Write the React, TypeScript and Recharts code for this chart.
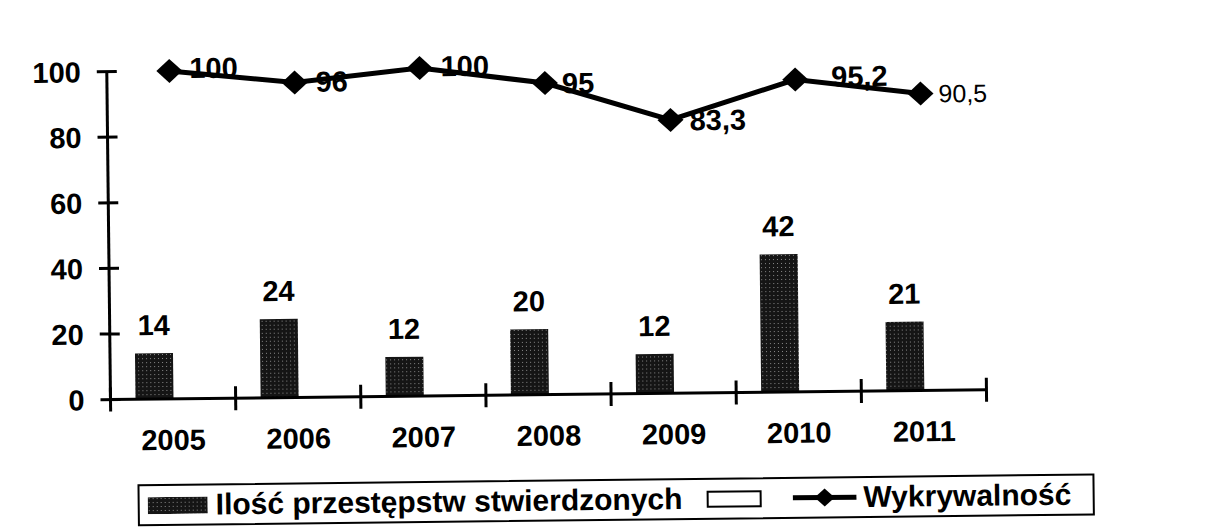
import { ComposedChart, Bar, Line, XAxis, YAxis, LabelList } from "recharts"

const YEARS = ["2005", "2006", "2007", "2008", "2009", "2010", "2011"]
const CRIMES = [14, 24, 12, 20, 12, 42, 21]
const EMPTY_SERIES = [0, 0, 0, 0, 0, 0, 0]
const DETECTION = [100, 96, 100, 95, 83.3, 95.2, 90.5]
const Y_TICKS = [0, 20, 40, 60, 80, 100]

const data = YEARS.map((year, i) => ({
  year,
  crimes: CRIMES[i],
  empty: EMPTY_SERIES[i],
  detection: DETECTION[i],
}))

const FONT = "'Liberation Sans', Arial, sans-serif"
const W = 1206
const H = 528
const PLOT_LEFT = 109
const PLOT_RIGHT = 985
const BAND = (PLOT_RIGHT - PLOT_LEFT) / YEARS.length

// label nudges for the line values (the scan has them a bit uneven)
const LINE_LABEL_DX = [20, 21, 21, 17, 19, 36, 18]
const LINE_LABEL_DY = [-3, -1, -2, 0, 0, -3, 0]

const fmt = (v: number) => String(v).replace(".", ",")

function YTick({ x, y, payload }: any) {
  return (
    <g>
      <line x1={x - 10} x2={x + 10} y1={y} y2={y} stroke="#000" strokeWidth={3} />
      <text x={x - 26} y={y} dy="0.36em" textAnchor="end" fontFamily={FONT} fontWeight={700} fontSize={29} fill="#000">
        {payload.value}
      </text>
    </g>
  )
}

function XTick({ x, y, payload, index }: any) {
  const left = x - BAND / 2
  const right = x + BAND / 2
  return (
    <g>
      <line x1={left} x2={left} y1={y - 12} y2={y + 12} stroke="#000" strokeWidth={3} />
      {index === YEARS.length - 1 && <line x1={right} x2={right} y1={y - 12} y2={y + 12} stroke="#000" strokeWidth={3} />}
      <text x={x} y={y + 51} textAnchor="middle" fontFamily={FONT} fontWeight={700} fontSize={29} fill="#000">
        {payload.value}
      </text>
    </g>
  )
}

function Diamond({ cx, cy, index }: any) {
  if (cx == null || cy == null) return null
  return <path key={`d-${index}`} d={`M${cx - 13},${cy} L${cx},${cy - 12} L${cx + 13},${cy} L${cx},${cy + 12} Z`} fill="#000" />
}

function LineLabel({ x, y, value, index }: any) {
  const last = index === DETECTION.length - 1
  return (
    <text
      x={x + LINE_LABEL_DX[index]}
      y={y + LINE_LABEL_DY[index]}
      dy="0.36em"
      fontFamily={FONT}
      fontWeight={last ? 400 : 700}
      fontSize={last ? 25 : 29}
      fill="#000"
    >
      {fmt(value)}
    </text>
  )
}

export default function App() {
  return (
    <div
      style={{
        position: "absolute",
        left: 0,
        top: 0,
        width: W,
        height: H,
        background: "#fff",
        overflow: "hidden",
      }}
    >
      <div style={{ position: "absolute", left: 0, top: 0, width: W, height: H, transform: "rotate(-0.65deg)", transformOrigin: "603px 264px" }}>
        <ComposedChart width={W} height={H} data={data} margin={{ top: 66, right: W - PLOT_RIGHT, left: 0, bottom: 74 }} barGap={0}>
          <defs>
            <pattern id="tex" width="4" height="4" patternUnits="userSpaceOnUse">
              <rect width="4" height="4" fill="#151515" />
              <rect x="1" y="1" width="1" height="1" fill="#8a8a8a" />
            </pattern>
          </defs>
          <XAxis
            dataKey="year"
            height={60}
            axisLine={{ stroke: "#000", strokeWidth: 3 }}
            tickLine={false}
            tickSize={0}
            tickMargin={0}
            tick={<XTick />}
            interval={0}
          />
          <YAxis
            width={PLOT_LEFT}
            domain={[0, 100]}
            ticks={Y_TICKS}
            axisLine={{ stroke: "#000", strokeWidth: 3 }}
            tickLine={false}
            tickSize={0}
            tickMargin={0}
            tick={<YTick />}
            interval={0}
          />
          <Bar dataKey="crimes" barSize={38} fill="url(#tex) #1c1c1c" isAnimationActive={false}>
            <LabelList dataKey="crimes" position="top" offset={18} fontFamily={FONT} fontWeight={700} fontSize={29} fill="#000" />
          </Bar>
          <Bar dataKey="empty" barSize={38} fill="#fff" isAnimationActive={false} />
          <Line
            dataKey="detection"
            type="linear"
            stroke="#000"
            strokeWidth={5}
            dot={<Diamond />}
            activeDot={false}
            isAnimationActive={false}
          >
            <LabelList dataKey="detection" content={<LineLabel />} />
          </Line>
        </ComposedChart>

        <div
          style={{
            position: "absolute",
            left: 135,
            top: 479,
            width: 957,
            height: 42,
            border: "2px solid #000",
            boxSizing: "border-box",
            display: "flex",
            alignItems: "center",
            fontFamily: FONT,
            fontWeight: 700,
            fontSize: 30,
            color: "#000",
            whiteSpace: "nowrap",
          }}
        >
          <svg width={60} height={17} style={{ marginLeft: 8, flex: "none" }}>
            <rect width={60} height={17} fill="url(#tex) #1c1c1c" />
          </svg>
          <span style={{ marginLeft: 8 }}>Ilość przestępstw stwierdzonych</span>
          <span style={{ marginLeft: 24, width: 55, height: 17, border: "2px solid #000", boxSizing: "border-box", flex: "none" }} />
          <svg width={64} height={24} style={{ marginLeft: 31, flex: "none" }}>
            <line x1={0} x2={64} y1={12} y2={12} stroke="#000" strokeWidth={5} />
            <path d="M22,12 L32,3 L42,12 L32,21 Z" fill="#000" />
          </svg>
          <span style={{ marginLeft: 7 }}>Wykrywalność</span>
        </div>
      </div>
    </div>
  )
}
